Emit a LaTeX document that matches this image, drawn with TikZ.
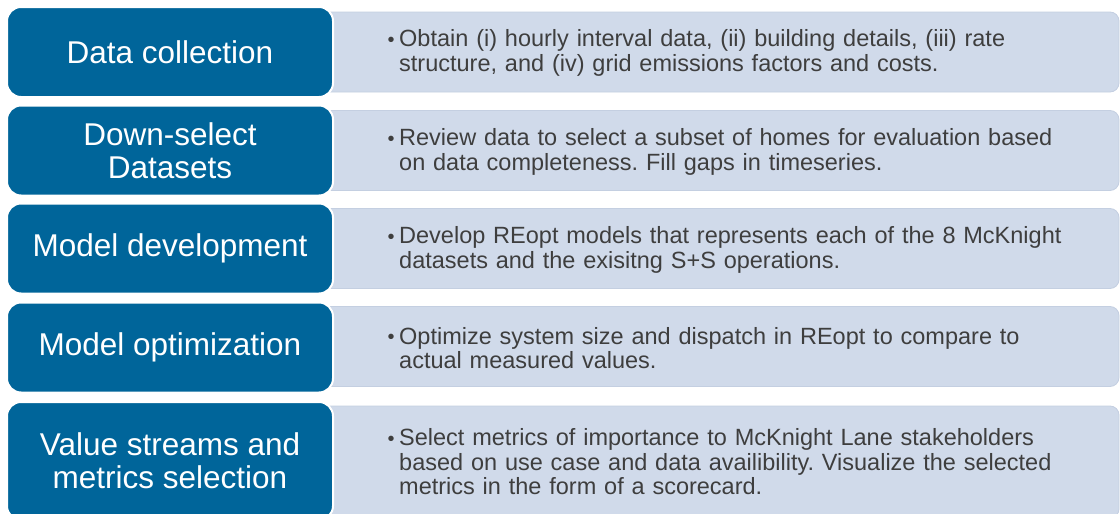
\documentclass[tikz,border=0pt]{standalone}
\usepackage{fontspec}
\setmainfont{Liberation Sans}

\definecolor{stageblue}{RGB}{0,101,154}
\definecolor{notefill}{RGB}{208,218,234}
\definecolor{noteline}{RGB}{196,207,225}
\definecolor{notetext}{RGB}{62,62,62}

% bullet hanging left of the note texts
\newcommand{\itembullet}{\llap{\raisebox{0.5pt}{\scalebox{0.85}{•}}\hspace{4.5pt}}}

\begin{document}
\begin{tikzpicture}[x=1pt,y=-1pt]
\tikzstyle{stage}=[draw=white, line width=2pt, fill=stageblue, rounded corners=14pt, minimum width=326pt, minimum height=90pt, text=white, align=center, font=\fontsize{31.5}{33}\selectfont]
\tikzstyle{note}=[draw=noteline, line width=0.8pt, fill=notefill, rounded corners=9pt, minimum width=800pt, minimum height=80pt]
\tikzstyle{item}=[anchor=west, text width=715pt, align=left, inner sep=0pt, text=notetext, font=\fontsize{23.5}{24.5}\selectfont\frenchspacing]

\clip (0,0) rectangle (1120,514);

% light boxes behind
\node[note] (N1) at (719,52) {};
\node[note] (N2) at (719,150.5) {};
\node[note] (N3) at (719,248.5) {};
\node[note] (N4) at (719,346.5) {};
\node[note, minimum height=112pt] (N5) at (719,462) {};

% step boxes
\node[stage] (S1) at (170,52) {Data collection};
\node[stage] (S2) at (170,150.5) {Down-select\\Datasets};
\node[stage] (S3) at (170,248.5) {Model development};
\node[stage] (S4) at (170,347.5) {Model optimization};
\node[stage, minimum height=118pt] (S5) at (170,461) {Value streams and\\metrics selection};

% texts
\node[item] (T1) at (399,53) {\itembullet Obtain (i) hourly interval data, (ii) building details, (iii) rate\newline structure, and (iv) grid emissions factors and costs.};
\node[item] (T2) at (399,152) {\itembullet Review data to select a subset of homes for evaluation based\newline on data completeness. Fill gaps in timeseries.};
\node[item] (T3) at (399,250) {\itembullet Develop REopt models that represents each of the 8 McKnight\newline datasets and the exisitng S+S operations.};
\node[item] (T4) at (399,348) {\itembullet Optimize system size and dispatch in REopt to compare to\newline actual measured values.};
\node[item] (T5) at (399,462) {\itembullet Select metrics of importance to McKnight Lane stakeholders\newline based on use case and data availibility. Visualize the selected\newline metrics in the form of a scorecard.};
\end{tikzpicture}
\end{document}
